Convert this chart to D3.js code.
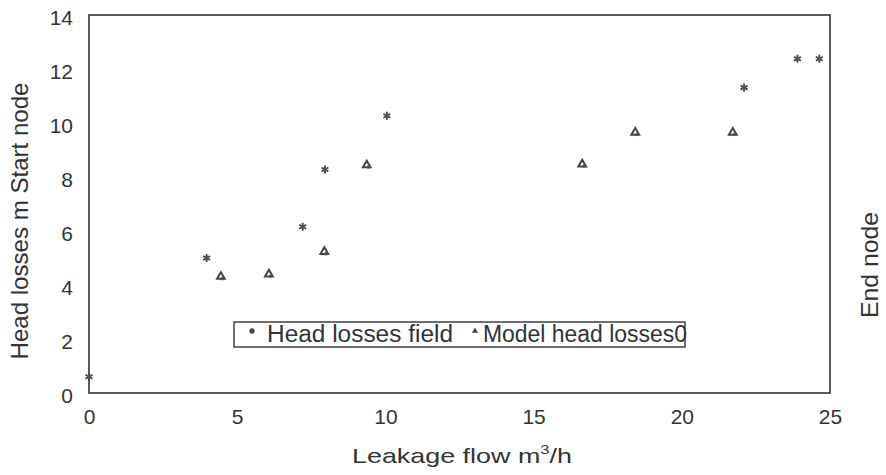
<!DOCTYPE html>
<html lang="en">
<head>
<meta charset="UTF-8">
<title>Head losses vs leakage flow</title>
<script src="https://d3js.org/d3.v7.min.js"></script>
<style>
    body { margin: 0; background: #fff; font-family: "Liberation Sans", Arial, sans-serif; }
    svg { display: block; }
    text { fill: #333; }
</style>
</head>
<body>
<div id="container"></div>
<script>
// data
const fieldFlow = [0, 3.97, 7.21, 7.96, 10.05, 22.1, 23.9, 24.64];
const fieldLoss = [0.6, 5.0, 6.16, 8.28, 10.27, 11.31, 12.38, 12.38];
const modelFlow = [4.45, 6.07, 7.94, 9.37, 16.64, 18.43, 21.72];
const modelLoss = [4.31, 4.4, 5.23, 8.44, 8.47, 9.65, 9.65];
const xTicks = [0, 5, 10, 15, 20, 25];
const yTicks = [0, 2, 4, 6, 8, 10, 12, 14];

const width = 886, height = 475;
const margin = {left: 89, right: 56, top: 15, bottom: 82};

const svg = d3.select('#container').append('svg')
    .attr('width', width).attr('height', height);

const x = d3.scaleLinear().domain([0, 25]).range([margin.left, width - margin.right]);
const y = d3.scaleLinear().domain([0, 14]).range([height - margin.bottom, margin.top]);

// frame
svg.append('rect')
    .attr('x', x(0)).attr('y', y(14))
    .attr('width', x(25) - x(0)).attr('height', y(0) - y(14))
    .attr('fill', 'none').attr('stroke', '#333').attr('stroke-width', 1.6);

// axes (labels only, no tick marks)
const xAxis = svg.append('g')
    .attr('transform', `translate(0,${y(0)})`)
    .call(d3.axisBottom(x).tickValues(xTicks).tickSize(0).tickPadding(16));
const yAxis = svg.append('g')
    .attr('transform', `translate(${x(0)},0)`)
    .call(d3.axisLeft(y).tickValues(yTicks).tickSize(0).tickPadding(16));
[xAxis, yAxis].forEach(g => {
    g.select('.domain').remove();
    g.selectAll('text').attr('font-size', 21).attr('fill', '#333')
        .attr('font-family', '"Liberation Sans", Arial, sans-serif');
});
yAxis.selectAll('text').attr('dy', '0.45em');

// titles
svg.append('text')
    .attr('x', 352).attr('y', 463)
    .attr('font-size', 21)
    .attr('textLength', 220).attr('lengthAdjust', 'spacingAndGlyphs')
    .html('Leakage flow m<tspan dy="-9" font-size="13">3</tspan><tspan dy="9">/h</tspan>');

svg.append('text')
    .attr('transform', 'translate(28,221) rotate(-90)')
    .attr('text-anchor', 'middle').attr('font-size', 24)
    .attr('textLength', 277).attr('lengthAdjust', 'spacingAndGlyphs')
    .text('Head losses m Start node');

svg.append('text')
    .attr('transform', 'translate(878,265) rotate(-90)')
    .attr('text-anchor', 'middle').attr('font-size', 24)
    .attr('textLength', 106).attr('lengthAdjust', 'spacingAndGlyphs')
    .text('End node');

// markers
const fieldSym = d3.symbol().type(d3.symbolAsterisk).size(45);
const modelSym = d3.symbol().type(d3.symbolTriangle).size(26);

const fieldG = svg.selectAll('.field')
    .data(fieldFlow.map((f, i) => ({f: f, h: fieldLoss[i]})))
    .enter().append('g')
    .attr('class', 'field')
    .attr('transform', d => `translate(${x(d.f)},${y(d.h)})`);
fieldG.append('path')
    .attr('d', fieldSym)
    .attr('fill', 'none').attr('stroke', '#444').attr('stroke-width', 1.8);
fieldG.append('circle')
    .attr('r', 2).attr('fill', '#555');

const modelG = svg.selectAll('.model')
    .data(modelFlow.map((f, i) => ({f: f, h: modelLoss[i]})))
    .enter().append('g')
    .attr('class', 'model')
    .attr('transform', d => `translate(${x(d.f)},${y(d.h)})`);
modelG.append('path')
    .attr('d', modelSym)
    .attr('fill', 'none').attr('stroke', '#444').attr('stroke-width', 2);
modelG.append('circle')
    .attr('cx', 1.5).attr('cy', 2).attr('r', 1.8).attr('fill', '#555');

// legend
const legend = svg.append('g').attr('transform', 'translate(234,322)');
legend.append('rect')
    .attr('width', 451).attr('height', 25)
    .attr('fill', '#fff').attr('stroke', '#333').attr('stroke-width', 1.4);
legend.append('path')
    .attr('transform', 'translate(18,9)')
    .attr('d', d3.symbol().type(d3.symbolCircle).size(22))
    .attr('fill', '#444');
legend.append('text')
    .attr('x', 33).attr('y', 20).attr('font-size', 23)
    .attr('textLength', 186).attr('lengthAdjust', 'spacingAndGlyphs')
    .text('Head losses field');
legend.append('path')
    .attr('transform', 'translate(241,9)')
    .attr('d', d3.symbol().type(d3.symbolTriangle).size(16))
    .attr('fill', '#444');
legend.append('text')
    .attr('x', 249).attr('y', 20).attr('font-size', 23)
    .attr('textLength', 204).attr('lengthAdjust', 'spacingAndGlyphs')
    .text('Model head losses0');
</script>
</body>
</html>
